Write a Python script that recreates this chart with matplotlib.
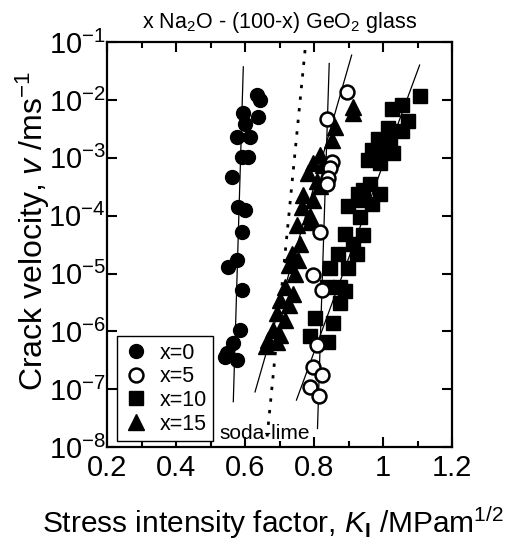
import numpy as np
import matplotlib
matplotlib.use("Agg")
import matplotlib.pyplot as plt

plt.rcParams['font.family'] = ['Liberation Sans', 'DejaVu Sans']
plt.rcParams['mathtext.fontset'] = 'custom'
plt.rcParams['mathtext.rm'] = 'Liberation Sans'
plt.rcParams['mathtext.it'] = 'Liberation Sans:italic'
plt.rcParams['mathtext.bf'] = 'Liberation Sans:bold'

# x = 0 (filled circles)
k_x0 = [0.634, 0.643, 0.639, 0.595, 0.600, 0.576, 0.614, 0.590, 0.610, 0.561,
        0.581, 0.600, 0.590, 0.552, 0.576, 0.590, 0.586, 0.566, 0.547, 0.576, 0.542]
v_x0 = [1.21e-2, 9.9e-3, 5.1e-3, 5.9e-3, 3.9e-3, 2.3e-3, 2.3e-3, 1.04e-3, 1.04e-3, 4.7e-4,
        1.4e-4, 1.25e-4, 5.3e-5, 1.3e-5, 1.7e-5, 5.2e-6, 1.05e-6, 6.2e-7, 4.2e-7, 3.2e-7, 3.6e-7]

# x = 5 (open circles)
k_x5 = [0.895, 0.837, 0.851, 0.846, 0.841, 0.837, 0.817, 0.798, 0.822, 0.810,
        0.798, 0.822, 0.788, 0.815]
v_x5 = [1.38e-2, 4.6e-3, 8.5e-4, 6.8e-4, 4.4e-4, 3.6e-4, 5.3e-5, 9.4e-6, 5.2e-6, 5.8e-7,
        2.4e-7, 1.76e-7, 1.1e-7, 7.6e-8]

# x = 10 (squares)
k_x10 = [1.107, 1.054, 1.025, 1.072, 1.015, 1.054, 0.986, 1.020, 0.967, 1.011,
         0.957, 1.030, 0.991, 0.962, 0.943, 0.991, 0.928, 0.899, 0.938, 0.967,
         0.933, 0.890, 0.943, 0.914, 0.870, 0.924, 0.846, 0.899, 0.838, 0.875,
         0.890, 0.875, 0.803, 0.856, 0.788, 0.841]
v_x10 = [1.17e-2, 8.1e-3, 7.1e-3, 4.3e-3, 3.3e-3, 2.9e-3, 2.1e-3, 1.8e-3, 1.36e-3, 1.36e-3,
         9.1e-4, 1.19e-3, 8.0e-4, 3.6e-4, 2.8e-4, 2.4e-4, 2.4e-4, 1.5e-4, 1.9e-4, 1.6e-4,
         9.6e-5, 4.9e-5, 4.6e-5, 3.3e-5, 2.2e-5, 2.2e-5, 1.24e-5, 1.24e-5, 5.8e-6, 5.8e-6,
         5.0e-6, 3.05e-6, 1.68e-6, 1.37e-6, 8.3e-7, 6.5e-7]

# x = 15 (triangles)
k_x15 = [0.914, 0.914, 0.861, 0.851, 0.817, 0.798, 0.827, 0.783, 0.808, 0.817,
         0.769, 0.798, 0.764, 0.788, 0.788, 0.750, 0.759, 0.735, 0.754, 0.726,
         0.745, 0.716, 0.740, 0.701, 0.726, 0.692, 0.716, 0.682, 0.701, 0.668,
         0.692, 0.661]
v_x15 = [7.6e-3, 5.9e-3, 3.4e-3, 2.0e-3, 1.1e-3, 8.0e-4, 7.5e-4, 5.4e-4, 3.9e-4, 3.2e-4,
         2.3e-4, 1.9e-4, 1.4e-4, 1.0e-4, 7.8e-5, 6.9e-5, 3.3e-5, 2.2e-5, 1.7e-5, 1.4e-5,
         1.0e-5, 5.9e-6, 4.5e-6, 3.5e-6, 2.85e-6, 2.05e-6, 1.57e-6, 1.05e-6, 8.6e-7, 7.1e-7,
         6.6e-7, 5.6e-7]

# fitted lines (end points)
fit_x0_k = [0.595, 0.566]
fit_x0_v = [3.74e-2, 6.1e-8]
fit_x5_k = [0.844, 0.810]
fit_x5_v = [4.28e-2, 2.1e-8]
fit_x10_k = [1.106, 0.749]
fit_x10_v = [4.01e-2, 6.5e-8]
fit_x15_k = [0.909, 0.629]
fit_x15_v = [5.96e-2, 9.0e-8]
soda_k = [0.774, 0.664]
soda_v = [7.3e-2, 1.5e-8]

fig = plt.figure(figsize=(5.22, 5.4), dpi=100)
ax = fig.add_axes([0.205, 0.172, 0.661, 0.75])

ax.plot(fit_x0_k, fit_x0_v, color='black', lw=0.9)
ax.plot(fit_x5_k, fit_x5_v, color='black', lw=0.9)
ax.plot(fit_x10_k, fit_x10_v, color='black', lw=0.9)
ax.plot(fit_x15_k, fit_x15_v, color='black', lw=0.9)
ax.plot(soda_k, soda_v, color='black', lw=2.0, linestyle=(0, (1.2, 3.0)))

ax.plot(k_x10, v_x10, 's', color='black', ms=10, label='x=10', zorder=3)
ax.plot(k_x15, v_x15, '^', color='black', ms=11.5, label='x=15', zorder=3)
ax.plot(k_x0, v_x0, 'o', color='black', ms=10, label='x=0', zorder=3)
ax.plot(k_x5, v_x5, 'o', mfc='white', mec='black', mew=1.8, ms=10, label='x=5', zorder=4)

ax.set_yscale('log')
ax.set_xlim(0.2, 1.2)
ax.set_ylim(1e-8, 1e-1)

xt = [0.2, 0.4, 0.6, 0.8, 1.0, 1.2]
ax.set_xticks(xt)
ax.set_xticklabels(['0.2', '0.4', '0.6', '0.8', '1', '1.2'])
ax.set_xticks(np.arange(0.3, 1.2, 0.2), minor=True)
yt = [1e-8, 1e-7, 1e-6, 1e-5, 1e-4, 1e-3, 1e-2, 1e-1]
ax.set_yticks(yt)
ax.set_yticklabels([r'$10^{%d}$' % e for e in range(-8, 0)])
ax.yaxis.set_minor_locator(matplotlib.ticker.NullLocator())

ax.tick_params(which='both', direction='in', top=True, right=True, width=1.5)
ax.tick_params(which='major', length=7, labelsize=21)
ax.tick_params(axis='x', which='major', pad=5)
ax.tick_params(axis='y', which='major', pad=1)
ax.tick_params(which='minor', length=4)
for s in ax.spines.values():
    s.set_linewidth(1.6)

ax.set_xlabel(r'Stress intensity factor, $K_\mathbf{I}$ /MPam$^{1/2}$', fontsize=21.5)
ax.set_ylabel(r'Crack velocity, $v$ /ms$^{-1}$', fontsize=23)
ax.xaxis.set_label_coords(0.48, -0.142)
ax.yaxis.set_label_coords(-0.16, 0.535)
ax.set_title(r'x Na$_2$O - (100-x) GeO$_2$ glass', fontsize=15.5, pad=10)

ax.text(0.657, 1.75e-8, 'soda-lime', fontsize=15, ha='center', va='center')

h, l = ax.get_legend_handles_labels()
order = [2, 3, 0, 1]
leg = ax.legend([h[i] for i in order], [l[i] for i in order], loc='lower left',
                bbox_to_anchor=(0.028, 0.015), borderaxespad=0, fontsize=15.5,
                frameon=True, fancybox=False, edgecolor='black', framealpha=1,
                handletextpad=0.5, labelspacing=0.12, borderpad=0.3, handlelength=1.2)
leg.get_frame().set_linewidth(1.0)

fig.savefig('out.png', dpi=100)
